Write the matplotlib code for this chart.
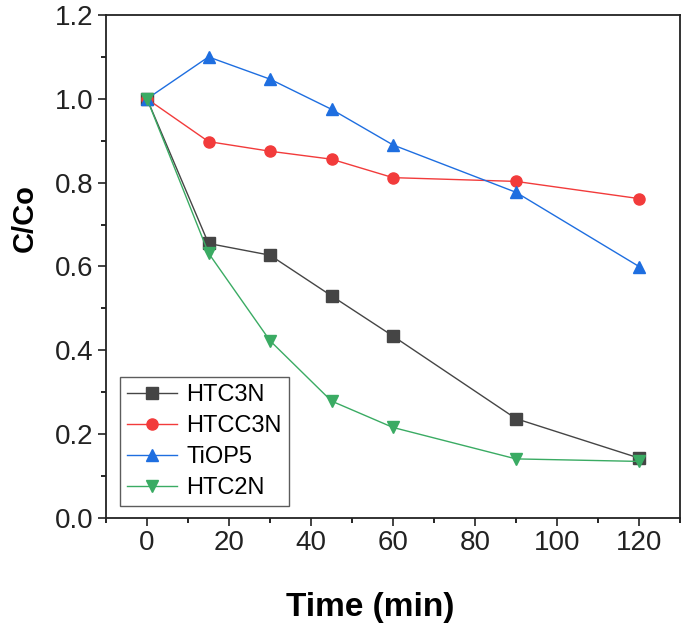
import matplotlib
matplotlib.use('Agg')
import matplotlib.pyplot as plt
from matplotlib.ticker import MultipleLocator

plt.rcParams['font.family'] = ['Liberation Sans', 'DejaVu Sans']

time = [0, 15, 30, 45, 60, 90, 120]
htc3n = [1.0, 0.655, 0.627, 0.53, 0.434, 0.237, 0.143]
htcc3n = [1.0, 0.898, 0.875, 0.856, 0.812, 0.803, 0.762]
tiop5 = [1.0, 1.10, 1.047, 0.975, 0.89, 0.777, 0.60]
htc2n = [1.0, 0.632, 0.423, 0.279, 0.216, 0.141, 0.135]

series = [
  ('HTC3N', htc3n, '#454545', 's'),
  ('HTCC3N', htcc3n, '#f23b3b', 'o'),
  ('TiOP5', tiop5, '#1e6ee0', '^'),
  ('HTC2N', htc2n, '#3aab63', 'v'),
]

fig = plt.figure(figsize=(6.85, 6.32), dpi=100)
ax = fig.add_axes([106 / 685, 1 - 518 / 632, (680 - 106) / 685, (518 - 15) / 632])

for name, vals, color, marker in series:
  ax.plot(time, vals, color=color, marker=marker, markersize=8, linewidth=1.0, label=name)

ax.set_xlim(-10, 130)
ax.set_ylim(0, 1.2)
ax.xaxis.set_major_locator(MultipleLocator(20))
ax.xaxis.set_minor_locator(MultipleLocator(10))
ax.yaxis.set_major_locator(MultipleLocator(0.2))
ax.yaxis.set_minor_locator(MultipleLocator(0.1))
ax.yaxis.set_major_formatter(plt.FuncFormatter(lambda v, p: '%.1f' % v))
ax.tick_params(which='major', direction='out', length=6, width=1.2, labelsize=20,
               colors='#222222', pad=3)
ax.tick_params(which='minor', direction='out', length=3.5, width=1.2)
for s in ax.spines.values():
  s.set_linewidth(1.3)
  s.set_color('#222222')

ax.set_xlabel('Time (min)', fontsize=24, fontweight='bold', va='center')
ax.set_ylabel('C/Co', fontsize=21, fontweight='bold', va='center')
ax.xaxis.set_label_coords(0.46, -0.177)
ax.yaxis.set_label_coords(-0.141, 0.596)

leg = ax.legend(loc='lower left', bbox_to_anchor=(0.012, 0.01), fontsize=17, frameon=True,
                fancybox=False, edgecolor='#333333', handlelength=2.1, borderpad=0.3,
                labelspacing=0.38, handletextpad=0.4, borderaxespad=0.3)
leg.get_frame().set_linewidth(1.0)

fig.savefig('out.png', dpi=100)
